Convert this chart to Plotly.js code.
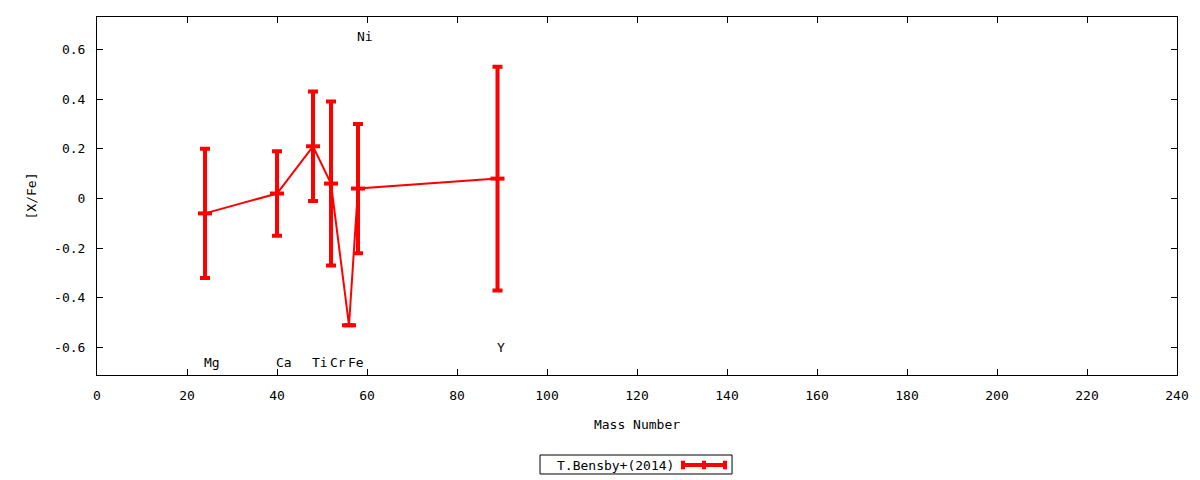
<!DOCTYPE html>
<html>
<head>
<meta charset="utf-8">
<script src="https://cdn.plot.ly/plotly-3.0.1.min.js"></script>
<style>html,body{margin:0;padding:0;background:#fff;}#chart{width:1200px;height:480px;}</style>
</head>
<body>
<div id="chart"></div>
<script>
// Data
var elements = ["Mg", "Ca", "Ti", "Cr", "Fe", "Ni", "Y"];
var massNumber = [24, 40, 48, 52, 56, 58, 89];
var xFe = [-0.06, 0.02, 0.21, 0.06, -0.51, 0.04, 0.08];
var xFeErr = [0.26, 0.17, 0.22, 0.33, 0.0, 0.26, 0.45];
var labelY = [-0.66, -0.66, -0.66, -0.66, -0.66, 0.65, -0.60];
var xTicks = [0, 20, 40, 60, 80, 100, 120, 140, 160, 180, 200, 220, 240];
var yTicks = [-0.6, -0.4, -0.2, 0, 0.2, 0.4, 0.6];
var yTickText = ["-0.6", "-0.4", "-0.2", "0", "0.2", "0.4", "0.6"];
var seriesName = "T.Bensby+(2014)";

var FONT = "DejaVu Sans Mono, monospace";
var RED = "#ff0000";

var trace = {
  x: massNumber,
  y: xFe,
  type: "scatter",
  mode: "lines+markers",
  name: seriesName,
  showlegend: false,
  line: {color: RED, width: 2},
  marker: {symbol: "line-ew", size: 10, color: RED, line: {color: RED, width: 4}},
  error_y: {type: "data", array: xFeErr, visible: true, color: RED, thickness: 4, width: 5}
};

var annotations = elements.map(function (el, i) {
  return {
    x: massNumber[i], y: labelY[i], xref: "x", yref: "y",
    text: el, showarrow: false, xanchor: "left", yanchor: "middle", xshift: -3,
    font: {family: FONT, size: 13, color: "#000"}
  };
});

// custom legend (text left, sample right, like the reference)
var L = {x0: 0.4102, x1: 0.588, y0: -0.2765, y1: -0.2235, ym: -0.2514, s0: 0.5426, s1: 0.5815};
annotations.push({
  x: 0.424, y: L.ym, xref: "paper", yref: "paper", text: seriesName, showarrow: false,
  xanchor: "left", yanchor: "middle", font: {family: FONT, size: 13, color: "#000"}
});
var capH = 0.012;
var shapes = [
  {type: "rect", xref: "paper", yref: "paper", x0: L.x0, x1: L.x1, y0: L.y0, y1: L.y1,
   line: {color: "#000", width: 1}, fillcolor: "rgba(0,0,0,0)"},
  {type: "line", xref: "paper", yref: "paper", x0: L.s0, x1: L.s1, y0: L.ym, y1: L.ym,
   line: {color: RED, width: 4}},
  {type: "line", xref: "paper", yref: "paper", x0: L.s0, x1: L.s0, y0: L.ym - capH, y1: L.ym + capH,
   line: {color: RED, width: 4}},
  {type: "line", xref: "paper", yref: "paper", x0: L.s1, x1: L.s1, y0: L.ym - capH, y1: L.ym + capH,
   line: {color: RED, width: 4}},
  {type: "line", xref: "paper", yref: "paper", x0: (L.s0 + L.s1) / 2, x1: (L.s0 + L.s1) / 2, y0: L.ym - capH, y1: L.ym + capH,
   line: {color: RED, width: 4}}
];

var layout = {
  width: 1200, height: 480,
  margin: {l: 97, r: 23, t: 17, b: 105},
  paper_bgcolor: "#fff", plot_bgcolor: "#fff",
  font: {family: FONT, size: 13, color: "#000"},
  showlegend: false,
  xaxis: {
    range: [0, 240], tickvals: xTicks, ticktext: xTicks.map(String),
    ticks: "inside", ticklen: 6, tickcolor: "#000", tickwidth: 1,
    showline: true, linecolor: "#000", linewidth: 1, mirror: "ticks",
    showgrid: false, zeroline: false, ticklabelstandoff: 8,
    title: {text: "Mass Number", font: {family: FONT, size: 13}, standoff: 18}
  },
  yaxis: {
    range: [-0.71, 0.73], tickvals: yTicks, ticktext: yTickText,
    ticks: "inside", ticklen: 6, tickcolor: "#000", tickwidth: 1,
    showline: true, linecolor: "#000", linewidth: 1, mirror: "ticks",
    showgrid: false, zeroline: false, ticklabelstandoff: 8,
    title: {text: "[X/Fe]", font: {family: FONT, size: 13}, standoff: 14}
  },
  annotations: annotations,
  shapes: shapes
};

Plotly.newPlot("chart", [trace], layout, {displayModeBar: false, staticPlot: true});
</script>
</body>
</html>
